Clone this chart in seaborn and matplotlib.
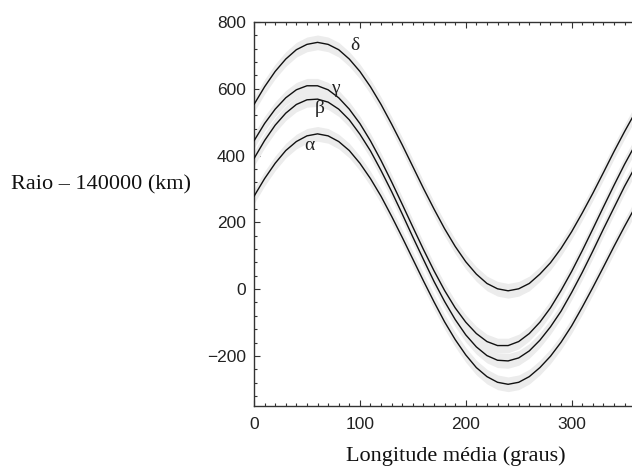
import numpy as np
import pandas as pd
import matplotlib
matplotlib.use("Agg")
import matplotlib.pyplot as plt
import seaborn as sns
from matplotlib.ticker import MultipleLocator

# Mean longitude (degrees)
longitude = list(range(0, 370, 10))

# Radius - 140000 km
ring_alpha = [278, 331, 377, 415, 442, 459, 465, 459, 442, 415, 377, 331, 278, 218, 155, 90,
              25, -38, -98, -151, -197, -235, -262, -279, -285, -279, -262, -235, -201, -159,
              -110, -54, 5, 66, 128, 188, 246]
ring_beta = [391, 445, 491, 527, 553, 567, 569, 560, 539, 507, 464, 414, 355, 292, 225, 156,
             89, 23, -37, -91, -137, -173, -199, -213, -215, -206, -185, -153, -113, -66,
             -10, 50, 114, 180, 244, 308, 366]
ring_gamma = [444, 496, 539, 573, 597, 609, 609, 597, 573, 539, 496, 444, 385, 321, 254, 186,
              119, 55, -4, -56, -99, -133, -157, -169, -169, -157, -133, -99, -56, -4,
              53, 115, 180, 246, 311, 374, 432]
ring_delta = [553, 606, 652, 689, 717, 733, 739, 733, 717, 689, 652, 606, 553, 494, 432, 367,
              302, 240, 181, 128, 82, 45, 17, 1, -5, 1, 17, 45, 79, 122,
              172, 228, 287, 349, 412, 472, 529]

ring_names = ["α", "β", "γ", "δ"]
label_x = [52, 62, 77, 95]
label_y = [430, 540, 600, 729]

xlabel = "Longitude média (graus)"
ylabel = "Raio – 140000 (km)"

series = [ring_alpha, ring_beta, ring_gamma, ring_delta]
df = pd.concat([pd.DataFrame({"lon": longitude, "r": s, "ring": n})
                for s, n in zip(series, ring_names)], ignore_index=True)

sns.set_style("white")
fig = plt.figure(figsize=(6.32, 4.68), dpi=100)
ax = fig.add_axes([254/632, 1-406/468, 378/632, 384/468])

band = 22
for s in series:
    s = np.asarray(s, dtype=float)
    ax.fill_between(longitude, s - band, s + band, color="#ececec", lw=0, zorder=1)

sns.lineplot(data=df, x="lon", y="r", hue="ring", palette=["#111111"] * 4,
             legend=False, linewidth=1.0, ax=ax, zorder=3)

for n, lx, ly in zip(ring_names, label_x, label_y):
    ax.text(lx, ly, n, family="Liberation Serif", fontsize=14, ha="center", va="center",
            color="#222222")

ax.set_xlim(0, 357)
ax.set_ylim(-350, 800)
ax.set_xticks([0, 100, 200, 300])
ax.set_yticks([-200, 0, 200, 400, 600, 800])
ax.set_yticklabels(["\u2212200", "0", "200", "400", "600", "800"])
ax.xaxis.set_minor_locator(MultipleLocator(10))
ax.yaxis.set_minor_locator(MultipleLocator(40))
ax.tick_params(which="both", direction="in", top=True, bottom=True, left=True, right=False,
               color="#333333", width=0.8)
ax.tick_params(which="major", length=4, labelsize=12.5, pad=6)
ax.tick_params(which="minor", length=2.5)
ax.tick_params(axis="x", which="major", pad=8)
for lab in ax.get_xticklabels() + ax.get_yticklabels():
    lab.set_family("Liberation Sans")
    lab.set_color("#222222")

for side in ["left", "bottom", "top"]:
    ax.spines[side].set_visible(True)
    ax.spines[side].set_color("#333333")
    ax.spines[side].set_linewidth(1.0)
ax.spines["right"].set_visible(False)

ax.set_xlabel("")
ax.set_ylabel("")
fig.text(456/632, 1-456/468, xlabel, family="Liberation Serif", fontsize=16,
         ha="center", va="center", color="#111111")
fig.text(11/632, 1-185/468, ylabel, family="Liberation Serif", fontsize=16,
         ha="left", va="center", color="#111111")

fig.savefig("out.png", dpi=100)
